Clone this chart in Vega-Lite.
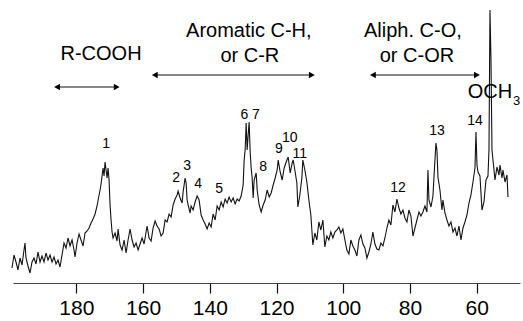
{
  "$schema": "https://vega.github.io/schema/vega-lite/v6.json",
  "width": 507,
  "height": 283,
  "autosize": {"type": "none"},
  "padding": {"left": 13, "right": 3, "top": 0, "bottom": 38},
  "config": {"view": {"stroke": null}, "font": "Liberation Sans Narrow, Liberation Sans, sans-serif"},
  "datasets": {
    "spectrum": [
      {"p":199.3,"i":15},{"p":198.7,"i":28},{"p":198.1,"i":21},{"p":197.5,"i":13},{"p":196.9,"i":25},{"p":196.3,"i":18},{"p":195.7,"i":33},{"p":195.4,"i":40},{"p":195.1,"i":25},{"p":194.5,"i":17},{"p":193.9,"i":10},{"p":193.3,"i":21},{"p":192.7,"i":25},{"p":192.1,"i":19},{"p":191.5,"i":31},{"p":190.9,"i":21},{"p":190.3,"i":27},{"p":189.7,"i":21},{"p":189.1,"i":30},{"p":188.5,"i":23},{"p":187.9,"i":28},{"p":187.3,"i":21},{"p":186.7,"i":26},{"p":186.1,"i":19},{"p":185.5,"i":23},{"p":184.9,"i":16},{"p":184.3,"i":28},{"p":183.7,"i":40},{"p":183.1,"i":35},{"p":182.5,"i":45},{"p":181.9,"i":37},{"p":181.3,"i":43},{"p":180.7,"i":33},{"p":180.4,"i":26},{"p":179.8,"i":40},{"p":179.2,"i":49},{"p":178.6,"i":43},{"p":178.0,"i":37},{"p":177.4,"i":50},{"p":176.8,"i":52},{"p":176.2,"i":55},{"p":175.6,"i":60},{"p":175.0,"i":64},{"p":174.4,"i":69},{"p":173.8,"i":77},{"p":173.2,"i":88},{"p":172.9,"i":93},{"p":172.6,"i":99},{"p":172.3,"i":107},{"p":172.0,"i":115},{"p":171.7,"i":107},{"p":171.4,"i":121},{"p":171.1,"i":113},{"p":170.8,"i":105},{"p":170.5,"i":115},{"p":170.2,"i":103},{"p":169.9,"i":78},{"p":169.6,"i":63},{"p":169.3,"i":51},
      {"p":169.0,"i":45},{"p":168.4,"i":50},{"p":167.8,"i":42},{"p":167.5,"i":54},{"p":166.9,"i":38},{"p":166.3,"i":33},{"p":165.7,"i":43},{"p":165.1,"i":30},{"p":164.5,"i":43},{"p":163.9,"i":54},{"p":163.3,"i":43},{"p":162.7,"i":36},{"p":162.1,"i":40},{"p":161.5,"i":33},{"p":160.9,"i":39},{"p":160.3,"i":45},{"p":159.7,"i":39},{"p":159.1,"i":51},{"p":158.8,"i":57},{"p":158.2,"i":45},{"p":157.6,"i":42},{"p":157.0,"i":55},{"p":156.4,"i":62},{"p":155.8,"i":57},{"p":155.2,"i":54},{"p":154.6,"i":47},{"p":154.0,"i":50},{"p":153.4,"i":63},{"p":152.8,"i":61},{"p":152.2,"i":69},{"p":151.6,"i":66},{"p":151.0,"i":78},{"p":150.4,"i":84},{"p":149.8,"i":88},{"p":149.5,"i":92},{"p":148.9,"i":85},{"p":148.3,"i":80},{"p":148.0,"i":91},{"p":147.4,"i":105},{"p":147.1,"i":100},{"p":146.8,"i":83},{"p":146.5,"i":78},{"p":145.9,"i":70},{"p":145.6,"i":77},{"p":145.0,"i":73},{"p":144.4,"i":81},{"p":143.8,"i":87},{"p":143.2,"i":83},{"p":142.6,"i":68},{"p":142.0,"i":63},{"p":141.4,"i":59},{"p":140.8,"i":54},{"p":140.2,"i":60},{"p":139.6,"i":56},{"p":139.0,"i":69},{"p":138.4,"i":63},{"p":137.8,"i":77},{"p":137.2,"i":73},{"p":136.6,"i":81},{"p":136.0,"i":76},{"p":135.4,"i":84},{"p":134.8,"i":80},{"p":134.2,"i":86},{"p":133.6,"i":81},{"p":133.0,"i":85},{"p":132.4,"i":79},{"p":131.8,"i":84},{"p":131.2,"i":82},{"p":130.6,"i":87},{"p":130.0,"i":98},{"p":129.7,"i":123},{"p":129.4,"i":133},{"p":129.1,"i":160},{"p":128.8,"i":133},{"p":128.5,"i":148},{"p":128.2,"i":161},{"p":127.9,"i":131},{"p":127.6,"i":115},{"p":127.3,"i":105},{"p":127.0,"i":85},{"p":126.7,"i":103},{"p":126.1,"i":110},{"p":125.8,"i":93},{"p":125.2,"i":78},{"p":124.6,"i":71},{"p":124.0,"i":78},{"p":123.4,"i":83},{"p":122.8,"i":93},{"p":122.2,"i":86},{"p":121.6,"i":90},{"p":121.0,"i":98},{"p":120.4,"i":105},{"p":119.8,"i":113},{"p":119.5,"i":123},{"p":118.9,"i":111},{"p":118.3,"i":103},{"p":117.7,"i":115},{"p":117.1,"i":121},{"p":116.5,"i":126},{"p":115.9,"i":110},{"p":115.3,"i":120},{"p":115.0,"i":123},{"p":114.5,"i":113},{"p":113.9,"i":100},{"p":113.6,"i":76},{"p":113.0,"i":88},{"p":112.4,"i":105},{"p":112.1,"i":123},{"p":111.5,"i":113},{"p":110.9,"i":101},{"p":110.3,"i":83},{"p":109.7,"i":68},{"p":109.1,"i":38},{"p":108.5,"i":50},{"p":107.9,"i":43},{"p":107.3,"i":61},{"p":106.7,"i":53},{"p":106.1,"i":63},{"p":105.5,"i":36},{"p":104.9,"i":47},{"p":104.3,"i":43},{"p":103.7,"i":51},{"p":103.1,"i":45},{"p":102.5,"i":51},{"p":101.9,"i":53},{"p":101.3,"i":56},{"p":100.7,"i":50},{"p":100.1,"i":54},{"p":99.5,"i":43},{"p":98.9,"i":33},{"p":98.3,"i":29},{"p":97.7,"i":43},{"p":97.1,"i":37},{"p":96.5,"i":33},{"p":95.9,"i":27},{"p":95.3,"i":43},{"p":94.7,"i":48},{"p":94.1,"i":39},{"p":93.5,"i":35},{"p":92.9,"i":25},{"p":92.3,"i":31},{"p":91.7,"i":39},{"p":91.1,"i":51},{"p":90.5,"i":39},{"p":89.9,"i":34},{"p":89.3,"i":33},{"p":88.7,"i":40},{"p":88.1,"i":37},{"p":87.5,"i":45},{"p":86.9,"i":55},{"p":86.3,"i":63},{"p":85.7,"i":58},{"p":85.1,"i":78},{"p":84.5,"i":71},{"p":83.9,"i":84},{"p":83.3,"i":75},{"p":82.7,"i":69},{"p":82.1,"i":73},{"p":81.5,"i":65},{"p":80.9,"i":61},{"p":80.3,"i":73},{"p":79.7,"i":67},{"p":79.1,"i":47},{"p":78.5,"i":55},{"p":77.9,"i":63},{"p":77.3,"i":71},{"p":76.7,"i":67},{"p":76.1,"i":71},{"p":75.5,"i":77},{"p":74.9,"i":71},{"p":74.6,"i":113},{"p":74.3,"i":83},{"p":73.7,"i":76},{"p":73.1,"i":87},{"p":72.5,"i":123},{"p":72.2,"i":140},{"p":71.9,"i":133},{"p":71.6,"i":106},{"p":71.0,"i":93},{"p":70.4,"i":73},{"p":70.1,"i":83},{"p":69.5,"i":70},{"p":68.9,"i":63},{"p":68.3,"i":57},{"p":67.7,"i":61},{"p":67.1,"i":51},{"p":66.5,"i":55},{"p":65.9,"i":47},{"p":65.3,"i":57},{"p":64.7,"i":43},{"p":64.1,"i":55},{"p":63.5,"i":61},{"p":62.9,"i":68},{"p":62.3,"i":80},{"p":61.7,"i":88},{"p":61.1,"i":101},{"p":60.5,"i":115},{"p":60.2,"i":151},{"p":59.9,"i":118},{"p":59.6,"i":111},{"p":59.0,"i":107},{"p":58.4,"i":73},{"p":57.8,"i":81},{"p":57.2,"i":103},{"p":56.6,"i":107},{"p":56.3,"i":133},{"p":56.0,"i":273},{"p":55.7,"i":223},{"p":55.4,"i":133},{"p":55.1,"i":123},{"p":54.5,"i":103},{"p":53.9,"i":116},{"p":53.3,"i":108},{"p":53.0,"i":118},{"p":52.4,"i":105},{"p":52.1,"i":113},{"p":51.5,"i":101},{"p":50.9,"i":108},{"p":50.6,"i":86}
    ],
    "peaks": [
      {"p":171.1,"i":139,"t":"1"},{"p":150.1,"i":105,"t":"2"},{"p":146.8,"i":117,"t":"3"},{"p":143.5,"i":99,"t":"4"},{"p":137.2,"i":94,"t":"5"},{"p":129.6,"i":168,"t":"6"},{"p":126.2,"i":168,"t":"7"},{"p":124.0,"i":116,"t":"8"},{"p":119.3,"i":134,"t":"9"},{"p":116.0,"i":145,"t":"10"},{"p":113.0,"i":129,"t":"11"},{"p":83.6,"i":95,"t":"12"},{"p":71.9,"i":152,"t":"13"},{"p":60.5,"i":162,"t":"14"}
    ],
    "regions": [
      {"p":172.6,"i":229,"t":"R-COOH"},{"p":128.3,"i":252,"t":"Aromatic C-H,"},{"p":128.0,"i":227,"t":"or C-R"},{"p":79.1,"i":252,"t":"Aliph. C-O,"},{"p":77.9,"i":227,"t":"or C-OR"},{"p":56.0,"i":191,"t":"OCH"}
    ],
    "subs": [
      {"p":48.0,"i":182,"t":"3"}
    ],
    "arrows": [
      {"a":185.8,"b":167.9,"i":196},{"a":156.5,"b":109.4,"i":208},{"a":91.1,"b":59.9,"i":208}
    ],
    "heads": [
      {"p":185.8,"i":196,"s":"triangle-left"},{"p":167.9,"i":196,"s":"triangle-right"},{"p":156.5,"i":208,"s":"triangle-left"},{"p":109.4,"i":208,"s":"triangle-right"},{"p":91.1,"i":208,"s":"triangle-left"},{"p":59.9,"i":208,"s":"triangle-right"}
    ]
  },
  "layer": [
    {
      "data": {"name": "spectrum"},
      "mark": {"type": "line", "color": "#111", "strokeWidth": 1.1, "interpolate": "linear"},
      "encoding": {
        "x": {"field": "p", "type": "quantitative", "scale": {"domain": [47, 199], "reverse": true, "nice": false, "zero": false},
          "axis": {"title": null, "values": [180,160,140,120,100,80,60], "grid": false, "domainColor": "#444", "domainWidth": 1, "tickColor": "#111", "tickSize": 10, "tickWidth": 1.2, "labelFontSize": 21, "labelColor": "#000", "labelPadding": 4, "labelFont": "Liberation Sans Narrow, Liberation Sans, sans-serif"}},
        "y": {"field": "i", "type": "quantitative", "scale": {"domain": [0, 283], "nice": false, "zero": false}, "axis": null}
      }
    },
    {
      "data": {"name": "peaks"},
      "mark": {"type": "text", "fontSize": 14, "color": "#000", "align": "center", "baseline": "middle"},
      "encoding": {
        "x": {"field": "p", "type": "quantitative"},
        "y": {"field": "i", "type": "quantitative"},
        "text": {"field": "t", "type": "nominal"}
      }
    },
    {
      "data": {"name": "regions"},
      "mark": {"type": "text", "fontSize": 20, "color": "#000", "align": "center", "baseline": "middle"},
      "encoding": {
        "x": {"field": "p", "type": "quantitative"},
        "y": {"field": "i", "type": "quantitative"},
        "text": {"field": "t", "type": "nominal"}
      }
    },
    {
      "data": {"name": "subs"},
      "mark": {"type": "text", "fontSize": 13, "color": "#000", "align": "center", "baseline": "middle"},
      "encoding": {
        "x": {"field": "p", "type": "quantitative"},
        "y": {"field": "i", "type": "quantitative"},
        "text": {"field": "t", "type": "nominal"}
      }
    },
    {
      "data": {"name": "arrows"},
      "mark": {"type": "rule", "color": "#111", "strokeWidth": 1.2},
      "encoding": {
        "x": {"field": "a", "type": "quantitative"},
        "x2": {"field": "b"},
        "y": {"field": "i", "type": "quantitative"}
      }
    },
    {
      "data": {"name": "heads"},
      "mark": {"type": "point", "filled": true, "color": "#000", "size": 45, "opacity": 1},
      "encoding": {
        "x": {"field": "p", "type": "quantitative"},
        "y": {"field": "i", "type": "quantitative"},
        "shape": {"field": "s", "type": "nominal", "scale": null}
      }
    }
  ]
}
